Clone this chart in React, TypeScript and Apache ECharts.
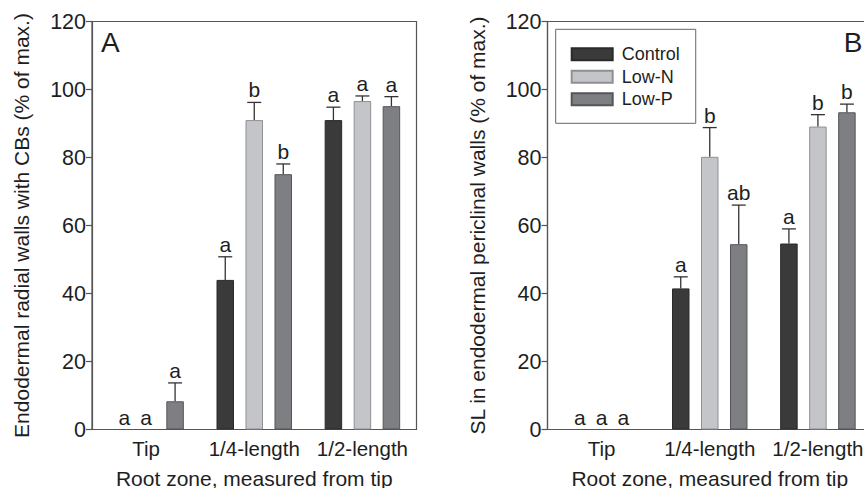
import React, { useEffect, useRef } from "react";
import * as echarts from "echarts";

const categories = ["Tip", "1/4-length", "1/2-length"];
const seriesNames = ["Control", "Low-N", "Low-P"];
const yTicks = [0, 20, 40, 60, 80, 100, 120];

// Panel A: Endodermal radial walls with CBs
const aControl = [0, 44.0, 91.0];
const aLowN = [0, 91.0, 96.6];
const aLowP = [8.3, 75.1, 95.1];
const aControlErrTop = [0, 50.8, 94.8];
const aLowNErrTop = [0, 96.2, 98.1];
const aLowPErrTop = [13.7, 78.1, 97.9];
const aControlLetters = ["a", "a", "a"];
const aLowNLetters = ["a", "b", "a"];
const aLowPLetters = ["a", "b", "a"];

// Panel B: SL in endodermal periclinal walls
const bControl = [0, 41.5, 54.7];
const bLowN = [0, 80.2, 89.1];
const bLowP = [0, 54.5, 93.3];
const bControlErrTop = [0, 44.9, 59.0];
const bLowNErrTop = [0, 88.8, 92.6];
const bLowPErrTop = [0, 66.0, 95.7];
const bControlLetters = ["a", "a", "a"];
const bLowNLetters = ["a", "b", "b"];
const bLowPLetters = ["a", "ab", "b"];

const colors = ["#3a3a3b", "#c4c5c8", "#7e7f83"];
const borders = ["#2a2a2a", "#8f9094", "#555659"];
const FONT = "'Liberation Sans', Arial, Helvetica, sans-serif";
const TXT = "#1e1e1e";
const FRAME = "#555";

const BAR_W = 17.5;
const STEP = 29;

function buildPanel(
  gridIdx: number,
  vals: number[][],
  errs: number[][],
  letters: string[][]
) {
  const out: any[] = [];
  for (let s = 0; s < 3; s++) {
    out.push({
      name: seriesNames[s],
      type: "bar",
      xAxisIndex: gridIdx,
      yAxisIndex: gridIdx,
      data: vals[s].map((v) => (v === 0 ? "-" : v)),
      barWidth: BAR_W,
      barGap: (((STEP - BAR_W) / BAR_W) * 100).toFixed(1) + "%",
      itemStyle: { color: colors[s], borderColor: borders[s], borderWidth: 1 },
      z: 2,
    });
  }
  for (let s = 0; s < 3; s++) {
    const offset = (s - 1) * STEP;
    const v = vals[s];
    const e = errs[s];
    const L = letters[s];
    out.push({
      name: "err" + gridIdx + "_" + s,
      type: "custom",
      xAxisIndex: gridIdx,
      yAxisIndex: gridIdx,
      z: 5,
      data: v.map((val, i) => [i, val, e[i]]),
      renderItem: (params: any, api: any) => {
        const i = params.dataIndex;
        const val = v[i];
        const top = e[i];
        const base = api.coord([i, val]);
        const children: any[] = [];
        if (val > 0) {
          const x = base[0] + offset;
          const yBar = base[1];
          const yTop = api.coord([i, top])[1];
          children.push({
            type: "line",
            shape: { x1: x, y1: yBar, x2: x, y2: yTop },
            style: { stroke: "#333", lineWidth: 1.3 },
          });
          children.push({
            type: "line",
            shape: { x1: x - 7, y1: yTop, x2: x + 7, y2: yTop },
            style: { stroke: "#333", lineWidth: 1.3 },
          });
          children.push({
            type: "text",
            style: {
              text: L[i],
              x: x,
              y: yTop - 2,
              align: "center",
              verticalAlign: "bottom",
              fill: TXT,
              font: "21px " + FONT,
            },
          });
        } else {
          const x = base[0] + offset * 0.75;
          children.push({
            type: "text",
            style: {
              text: L[i],
              x: x,
              y: base[1] - 2,
              align: "center",
              verticalAlign: "bottom",
              fill: TXT,
              font: "21px " + FONT,
            },
          });
        }
        return { type: "group", children };
      },
    });
  }
  return out;
}

export default function App() {
  const ref = useRef<HTMLDivElement>(null);
  useEffect(() => {
    if (!ref.current) return;
    const chart = echarts.init(ref.current, undefined, { renderer: "svg" });
    const gridTop = 21.5;
    const gridH = 408;
    const grids = [
      { left: 92, top: gridTop, width: 324.5, height: gridH },
      { left: 547.5, top: gridTop, width: 324.5, height: gridH },
    ].map((g) => ({
      ...g,
      show: true,
      containLabel: false,
      outerBoundsMode: "none",
      borderColor: FRAME,
      borderWidth: 1.2,
      backgroundColor: "transparent",
    }));
    const yNames = [
      "Endodermal radial walls with CBs (% of max.)",
      "SL in endodermal periclinal walls (% of max.)",
    ];
    const xAxes = [0, 1].map((gi) => ({
      type: "category",
      gridIndex: gi,
      data: categories,
      axisLine: { show: true, lineStyle: { color: FRAME, width: 1.2 } },
      axisTick: { show: false },
      axisLabel: {
        color: TXT,
        fontSize: 20.5,
        fontFamily: FONT,
        margin: 8,
        interval: 0,
        hideOverlap: false,
      },
      name: "Root zone, measured from tip",
      nameLocation: "middle",
      nameGap: 38,
      nameTextStyle: { color: TXT, fontSize: 21, fontFamily: FONT },
    }));
    const yAxes = [0, 1].map((gi) => ({
      type: "value",
      gridIndex: gi,
      min: 0,
      max: 120,
      interval: 20,
      splitLine: { show: false },
      axisLine: { show: true, lineStyle: { color: FRAME, width: 1.2 } },
      axisTick: { show: true, length: 6, lineStyle: { color: FRAME, width: 1.2 } },
      axisLabel: {
        color: TXT,
        fontSize: 21.5,
        fontFamily: FONT,
        margin: 6,
        formatter: (v: number) => (yTicks.includes(v) ? String(v) : ""),
      },
      name: yNames[gi],
      nameLocation: "middle",
      nameGap: 60,
      nameTextStyle: { color: TXT, fontSize: 21, fontFamily: FONT },
    }));
    const series = [
      ...buildPanel(
        0,
        [aControl, aLowN, aLowP],
        [aControlErrTop, aLowNErrTop, aLowPErrTop],
        [aControlLetters, aLowNLetters, aLowPLetters]
      ),
      ...buildPanel(
        1,
        [bControl, bLowN, bLowP],
        [bControlErrTop, bLowNErrTop, bLowPErrTop],
        [bControlLetters, bLowNLetters, bLowPLetters]
      ),
    ];
    chart.setOption({
      animation: false,
      backgroundColor: "#ffffff",
      grid: grids,
      xAxis: xAxes,
      yAxis: yAxes,
      legend: {
        data: seriesNames,
        orient: "vertical",
        left: 555.7,
        top: 29.3,
        padding: [16, 16, 15, 15],
        borderColor: "#666",
        borderWidth: 1,
        itemWidth: 41,
        itemHeight: 12,
        itemGap: 4.5,
        icon: "rect",
        selectedMode: false,
        textStyle: { color: TXT, fontSize: 18, fontFamily: FONT, padding: [0, 0, 0, 4] },
      },
      graphic: [
        {
          type: "text",
          left: 101,
          top: 28,
          style: { text: "A", fill: TXT, font: "28px " + FONT },
        },
        {
          type: "text",
          left: 843.7,
          top: 28,
          style: { text: "B", fill: TXT, font: "28px " + FONT },
        },
      ],
      series,
    });
    return () => chart.dispose();
  }, []);
  return (
    <div
      ref={ref}
      style={{ position: "fixed", left: 0, top: 0, width: 864, height: 488 }}
    />
  );
}
